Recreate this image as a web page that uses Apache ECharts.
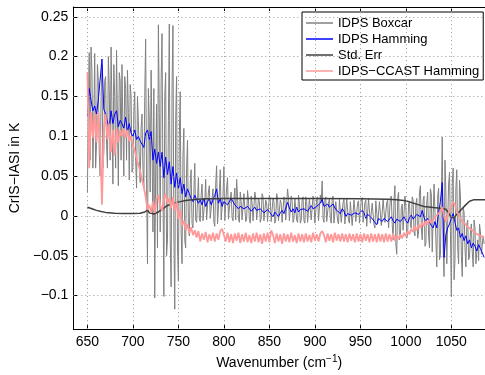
<!DOCTYPE html>
<html><head><meta charset="utf-8">
<script src="https://cdn.jsdelivr.net/npm/echarts@6/dist/echarts.min.js"></script>
<style>html,body{margin:0;padding:0;background:#fff}#c{width:485px;height:375px}</style>
</head><body><div id="c"></div>
<script>
// Wavenumber grid (cm^-1), even samples
const wavenumber = [
650,652,654,656,658,660,662,664,666,668,
670,672,674,676,678,680,682,684,686,688,
690,692,694,696,698,700,702,704,706,708,
710,712,714,716,718,720,722,724,726,728,
730,732,734,736,738,740,742,744,746,748,
750,752,754,756,758,760,762,764,766,768,
770,772,774,776,778,780,782,784,786,788,
790,792,794,796,798,800,802,804,806,808,
810,812,814,816,818,820,822,824,826,828,
830,832,834,836,838,840,842,844,846,848,
850,852,854,856,858,860,862,864,866,868,
870,872,874,876,878,880,882,884,886,888,
890,892,894,896,898,900,902,904,906,908,
910,912,914,916,918,920,922,924,926,928,
930,932,934,936,938,940,942,944,946,948,
950,952,954,956,958,960,962,964,966,968,
970,972,974,976,978,980,982,984,986,988,
990,992,994,996,998,1000,1002,1004,1006,1008,
1010,1012,1014,1016,1018,1020,1022,1024,1026,1028,
1030,1032,1034,1036,1038,1040,1042,1044,1046,1048,
1050,1052,1054,1056,1058,1060,1062,1064,1066,1068,
1070,1072,1074,1076,1078,1080,1082,1084,1086];

// Odd samples (used by the boxcar spectrum only)
const wavenumberOdd = [
651,653,655,657,659,661,663,665,667,669,
671,673,675,677,679,681,683,685,687,689,
691,693,695,697,699,701,703,705,707,709,
711,713,715,717,719,721,723,725,727,729,
731,733,735,737,739,741,743,745,747,749,
751,753,755,757,759,761,763,765,767,769,
771,773,775,777,779,781,783,785,787,789,
791,793,795,797,799,801,803,805,807,809,
811,813,815,817,819,821,823,825,827,829,
831,833,835,837,839,841,843,845,847,849,
851,853,855,857,859,861,863,865,867,869,
871,873,875,877,879,881,883,885,887,889,
891,893,895,897,899,901,903,905,907,909,
911,913,915,917,919,921,923,925,927,929,
931,933,935,937,939,941,943,945,947,949,
951,953,955,957,959,961,963,965,967,969,
971,973,975,977,979,981,983,985,987,989,
991,993,995,997,999,1001,1003,1005,1007,1009,
1011,1013,1015,1017,1019,1021,1023,1025,1027,1029,
1031,1033,1035,1037,1039,1041,1043,1045,1047,1049,
1051,1053,1055,1057,1059,1061,1063,1065,1067,1069,
1071,1073,1075,1077,1079,1081,1083,1085];

// Values in milli-Kelvin (divided by 1000 when plotted)
const boxcarMilliK = [
30,205,212,60,204,90,170,50,190,80,
175,60,160,212,40,150,208,38,170,190,
50,160,183,45,150,60,156,35,120,42,
128,35,222,-60,120,183,-20,-103,140,240,
-20,229,-101,180,-30,241,-89,239,-117,175,
-82,156,-60,110,-40,95,-25,58,-15,66,
-8,48,-7,40,-5,46,-6,38,-4,34,
-13,63,-8,58,-6,62,-5,48,-4,30,
-6,35,46,-3,30,-5,28,-7,32,-4,
25,-6,30,-5,22,-8,28,-6,20,-7,
26,-7,22,-9,28,-6,20,-8,24,-5,
34,-6,25,-8,22,-5,26,-9,20,-6,
24,-8,22,-5,25,-9,21,-6,26,44,
-8,24,-6,22,-9,25,-7,20,-10,23,
-8,21,-11,24,-9,20,-10,22,-8,19,
-10,23,-9,20,-12,22,-10,18,-15,21,
-11,19,-13,22,-10,20,-14,25,-30,38,
-48,30,-25,15,-20,12,-22,18,-15,20,
-25,22,-20,38,-30,25,-35,30,-40,28,
-45,42,-64,35,-50,99,-76,30,-60,55,
-101,60,-55,58,-60,25,-76,5,-64,-5,
-52,-10,-64,-15,-45,-56,-20,-50,-35];

const boxcarOddMilliK = [
150,70,180,120,60,190,80,150,60,170,
90,200,70,130,190,60,120,180,70,110,
175,70,130,165,55,130,70,150,70,110,
60,150,40,160,30,90,160,60,-40,130,
170,40,150,-50,120,-30,160,-20,120,-40,
100,-20,75,-31,60,-15,40,-10,30,-5,
20,-4,26,-6,18,-5,30,-3,22,-8,
40,-10,30,-5,25,-6,35,-4,22,-2,
20,-5,24,-8,18,-6,26,-4,20,-9,
16,-4,22,-7,18,-3,24,-6,15,-5,
20,-8,18,-4,22,-7,16,-9,20,-3,
22,-7,18,-4,20,-8,16,-5,24,-9,
18,-6,22,-4,19,-8,24,-5,17,-3,
20,-7,16,-4,22,-9,18,-6,21,-8,
17,-10,22,-6,18,-12,20,-7,16,-9,
20,-8,17,-13,22,-9,16,-11,19,-10,
18,-12,21,-8,17,-15,22,-10,20,-35,
22,-30,10,-18,25,-28,15,-12,24,-20,
15,-28,30,-15,20,-38,18,-25,34,-45,
40,-30,25,-55,20,-40,70,-60,40,-20,
40,-80,35,-40,45,-50,10,-40,-10,-55,
-20,-45,-5,-60,-30,-10,-48,-25];

const hammingMilliK = [
125,160,145,132,138,128,146,148,197,134,
128,118,110,132,116,128,132,112,120,116,
110,124,106,116,104,100,108,96,100,94,
90,86,104,108,96,106,70,84,66,80,
62,80,48,74,52,68,40,62,36,54,
34,48,28,40,24,34,28,22,18,26,
24,16,20,14,22,12,18,22,14,16,
26,34,16,22,12,18,20,14,16,22,
20,14,12,9,12,14,9,7,12,13,
6,8,11,7,5,9,7,4,3,8,
9,2,-1,5,2,-1,4,7,3,4,
17,10,5,9,4,11,5,8,6,9,
9,6,8,13,9,7,12,13,16,21,
12,10,15,11,9,15,10,7,5,3,
9,6,-1,3,5,1,-1,4,3,2,
1,7,4,-3,2,3,-2,-5,-8,-11,
-3,-5,-7,-3,-1,-7,-5,-1,-6,-9,
-4,-3,-7,-4,-1,-6,-9,-2,1,-4,
-5,2,3,-1,7,-2,-7,-3,-1,-12,
-15,-7,-15,4,18,42,-52,-23,-15,-10,
-3,3,-8,-18,-15,-27,-22,-31,-25,-35,
-30,-40,-34,-38,-44,-36,-41,-46,-52];

const ccastMilliK = [
180,60,130,98,128,92,130,96,14,108,
128,96,116,80,108,76,110,92,108,100,
110,98,108,94,100,88,82,72,64,56,
46,36,24,8,14,4,18,4,22,26,
14,6,20,28,16,22,10,24,6,18,
-4,8,-12,-6,-18,-10,-22,-14,-24,-18,
-27,-19,-32,-22,-30,-20,-33,-23,-31,-21,
-32,-22,-30,-19,-16,-24,-32,-21,-33,-23,
-34,-22,-31,-21,-34,-23,-32,-21,-33,-24,
-34,-22,-32,-21,-33,-23,-35,-22,-32,-21,
-33,-18,-24,-34,-22,-32,-23,-35,-22,-32,
-23,-33,-21,-32,-24,-34,-22,-32,-23,-33,
-22,-32,-24,-33,-21,-31,-23,-32,-22,-19,
-24,-33,-22,-31,-23,-33,-21,-31,-23,-32,
-22,-32,-23,-33,-22,-31,-23,-33,-22,-32,
-23,-33,-22,-31,-23,-33,-22,-32,-23,-33,
-22,-32,-23,-33,-22,-32,-23,-32,-22,-31,
-25,-29,-23,-28,-21,-26,-19,-23,-16,-20,
-13,-18,-11,-15,-8,-13,-6,-11,-4,-9,
-4,-1,-3,3,6,11,0,-7,0,8,
12,18,14,6,1,-3,-7,-5,-11,-14,
-12,-17,-19,-21,-20,-24,-23,-26,-27];

const stdErrWavenumber = [650,655,660,665,670,680,690,700,708,713,716,718,720,723,728,733,737,742,747,752,758,765,772,780,790,800,850,900,950,980,990,1000,1010,1020,1030,1040,1044,1047,1050,1053,1056,1060,1065,1070,1075,1087];
const stdErrMilliK = [11,9,7,5.5,4.5,3.5,3,3,3.5,5,7.5,4,2,2.5,5,9,12.5,15,16.5,18,19.5,20.5,21,21.5,21.5,22,22,22,21.5,21,20.5,19,15.5,12,10.5,9.5,8.5,4,-2,-2,2,7,13,18.5,20.5,20.5];

const xTicks = [650,700,750,800,850,900,950,1000,1050];
const yTicks = [-0.1,-0.05,0,0.05,0.1,0.15,0.2,0.25];
const seriesNames = ['IDPS Boxcar','IDPS Hamming','Std. Err','IDPS\u2212CCAST Hamming'];

const pairs = (xs, ys) => xs.map((x, i) => [x, ys[i] / 1000]);
const boxcarData = pairs(wavenumber, boxcarMilliK)
  .concat(pairs(wavenumberOdd, boxcarOddMilliK))
  .sort((a, b) => a[0] - b[0]);
const FONT = "'Liberation Sans', Arial, Helvetica, sans-serif";

const chart = echarts.init(document.getElementById('c'), null, {renderer: 'canvas'});
const fmtY = v => {
  const r = Math.round(v * 1000) / 1000;
  if (Math.abs(r) < 1e-9) return '0';
  return String(r).replace('-', '\u2212');
};
const gridStyle = {color: '#9a9a9a', type: [1, 3], width: 1};
const gridLines = xTicks.map(v => ({xAxis: v})).concat(yTicks.map(v => ({yAxis: v})));

chart.setOption({
  animation: false,
  backgroundColor: '#fff',
  textStyle: {fontFamily: FONT},
  grid: {left: 69, top: 7, right: 0, bottom: 38, containLabel: false},
  legend: {
    orient: 'vertical', left: 302, top: 12,
    padding: [3, 4, 1, 4], itemGap: 0, itemWidth: 27, itemHeight: 1.5, icon: 'rect',
    borderColor: '#000', borderWidth: 1, backgroundColor: '#fff',
    textStyle: {fontSize: 13, color: '#000', fontFamily: FONT, lineHeight: 16},
    data: seriesNames
  },
  xAxis: [{
    type: 'value', min: 634.5, max: 1087,
    position: 'bottom',
    name: '{a|Wavenumber (cm}{s|\u22121}{a|)}',
    nameLocation: 'middle', nameGap: 24,
    nameTextStyle: {rich: {
      a: {fontSize: 14, color: '#000', fontFamily: FONT},
      s: {fontSize: 10, color: '#000', fontFamily: FONT, verticalAlign: 'top', padding: [0, 0, 8, 0]}
    }},
    axisLine: {onZero: false, lineStyle: {color: '#000', width: 1}},
    axisTick: {inside: true, length: 4, lineStyle: {color: '#000'}, customValues: xTicks},
    axisLabel: {color: '#000', fontSize: 14, margin: 6, fontFamily: FONT, customValues: xTicks, formatter: v => String(v)},
    splitLine: {show: false}
  }, {
    type: 'value', min: 634.5, max: 1087, position: 'top',
    axisLine: {onZero: false, lineStyle: {color: '#000', width: 1}},
    axisTick: {inside: true, length: 4, lineStyle: {color: '#000'}, customValues: xTicks},
    axisLabel: {show: false},
    splitLine: {show: false}
  }],
  yAxis: [{
    type: 'value', min: -0.142, max: 0.2623,
    name: 'CrIS\u2212IASI in K', nameLocation: 'middle', nameGap: 51, nameRotate: 90,
    nameTextStyle: {fontSize: 14, color: '#000', fontFamily: FONT},
    axisLine: {show: true, onZero: false, lineStyle: {color: '#000', width: 1}},
    axisTick: {show: true, inside: true, length: 4, lineStyle: {color: '#000'}, customValues: yTicks},
    axisLabel: {color: '#000', fontSize: 14, margin: 5, fontFamily: FONT, formatter: fmtY, customValues: yTicks},
    splitLine: {show: false}
  }],
  series: [
    {name: 'grid', type: 'line', xAxisIndex: 0, data: [], z: 1, silent: true,
     markLine: {silent: true, symbol: 'none', label: {show: false}, animation: false,
       lineStyle: gridStyle, emphasis: {disabled: true}, data: gridLines}},
    {name: seriesNames[0], type: 'line', xAxisIndex: 0, data: boxcarData,
     symbol: 'none', color: '#808080', lineStyle: {color: '#808080', width: 1}, z: 2},
    {name: seriesNames[1], type: 'line', xAxisIndex: 0, data: pairs(wavenumber, hammingMilliK),
     symbol: 'none', color: '#0000ff', lineStyle: {color: '#0000ff', width: 1}, z: 3},
    {name: seriesNames[2], type: 'line', xAxisIndex: 0, data: pairs(stdErrWavenumber, stdErrMilliK),
     symbol: 'none', color: '#404040', lineStyle: {color: '#404040', width: 1.5}, z: 4},
    {name: seriesNames[3], type: 'line', xAxisIndex: 0, data: pairs(wavenumber, ccastMilliK),
     symbol: 'none', color: '#ff9999', lineStyle: {color: '#ff9999', width: 1.8}, z: 5}
  ]
});
</script></body></html>
